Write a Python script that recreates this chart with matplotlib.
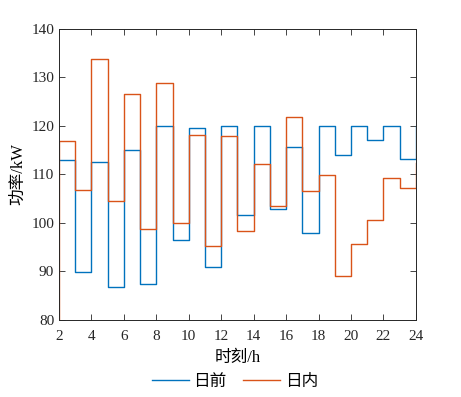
import matplotlib
matplotlib.use("Agg")
import matplotlib.pyplot as plt
import numpy as np

plt.rcParams["font.family"] = ["Liberation Serif", "Noto Sans CJK SC", "DejaVu Sans"]

# hourly steps, value holds from hour h to h+1
hours = np.arange(1, 25)
day_ahead = [113.0, 113.0, 89.8, 112.5, 86.7, 115.0, 87.4, 120.0, 96.4, 119.6, 90.9, 120.0,
             101.7, 120.0, 102.8, 115.6, 97.9, 120.0, 114.1, 120.0, 117.2, 120.0, 113.2, 120.0]
intraday = [70.0, 117.0, 106.9, 133.8, 104.6, 126.5, 98.8, 128.9, 99.9, 118.2, 95.3, 118.0,
            98.4, 112.1, 103.6, 121.8, 106.6, 109.8, 89.1, 95.6, 100.6, 109.2, 107.2, 112.3]
labels = ["日前", "日内"]
colors = ["#0072BD", "#D95319"]

fig = plt.figure(figsize=(4.61, 3.97), dpi=100)
ax = fig.add_axes([0.128, 0.194, 0.774, 0.733])

ax.step(hours, day_ahead, where="post", color=colors[0], lw=1.0, label=labels[0])
ax.step(hours, intraday, where="post", color=colors[1], lw=1.0, label=labels[1])

ax.set_xlim(2, 24)
ax.set_ylim(80, 140)
ax.set_xticks(np.arange(2, 25, 2))
ax.set_yticks(np.arange(80, 141, 10))
ax.tick_params(direction="in", top=True, right=True, length=4, width=0.6,
               labelsize=11, colors="#262626")
ax.tick_params(axis="x", pad=7)
for s in ax.spines.values():
    s.set_linewidth(0.7)
    s.set_color("#262626")

ax.set_xlabel("时刻/h", fontsize=12, labelpad=5)
ax.set_ylabel("功率/kW", fontsize=12, labelpad=4)

fig.legend(loc="center", bbox_to_anchor=(0.51, 0.038), ncol=2, frameon=False,
           fontsize=12, handlelength=2.2, columnspacing=1.0, handletextpad=0.3)

fig.savefig("out.png", dpi=100)
